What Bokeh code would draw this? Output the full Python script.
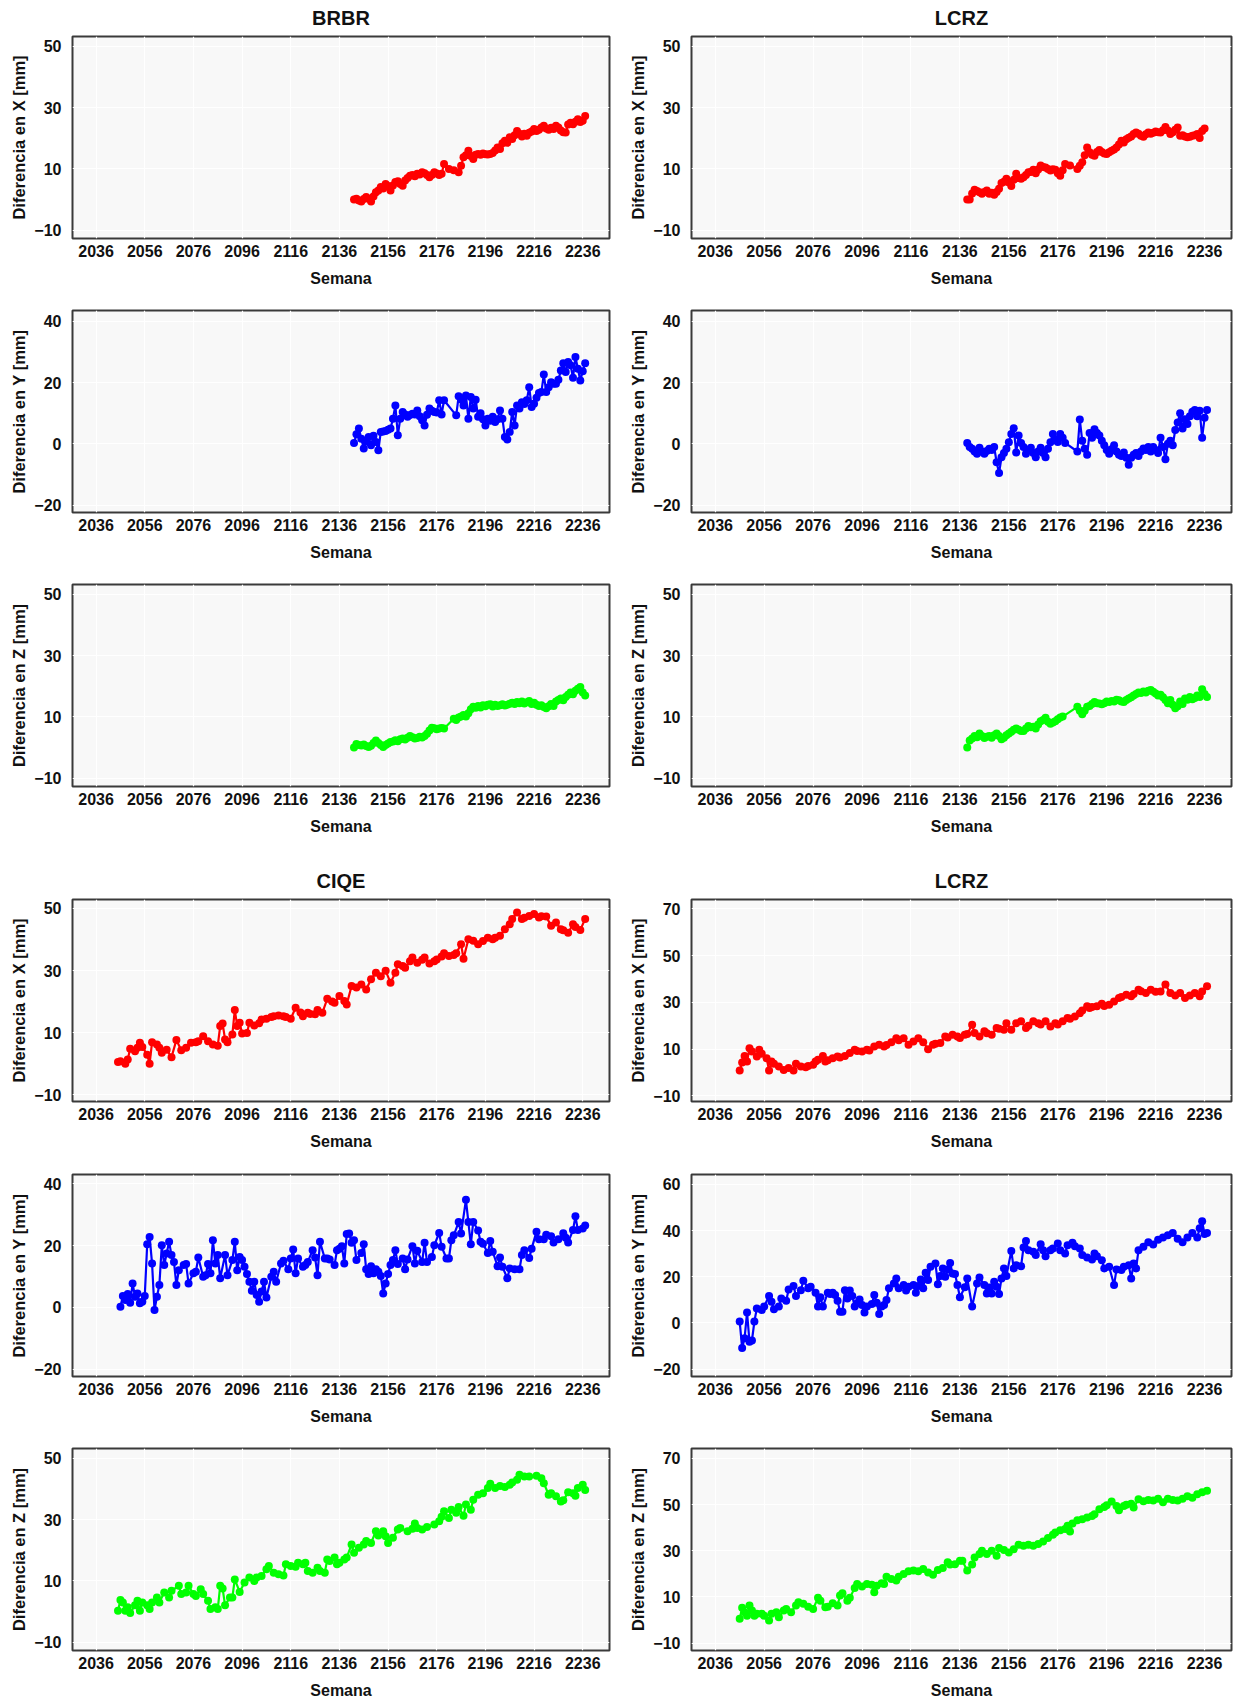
from bokeh.plotting import figure
from bokeh.layouts import column, row
from bokeh.models import FixedTicker, Range1d
from bokeh.embed import file_html
from bokeh.resources import INLINE

FONT = "Liberation Sans"

semana_ticks = [2036, 2056, 2076, 2096, 2116, 2136, 2156, 2176, 2196, 2216, 2236]
ticks_50 = [-10, 10, 30, 50]
ticks_40 = [-20, 0, 20, 40]
ticks_70 = [-10, 10, 30, 50, 70]
ticks_60 = [-20, 0, 20, 40, 60]

# ---------------- BRBR (top left) ----------------
brbr_x_semanas = list(range(2142, 2180)) + [2181, 2183] + list(range(2185, 2238))
brbr_x_mm = [0.0, 0.3, -0.3, -0.6, 0.2, 0.8, 0.3, -0.6, 1.0, 2.4, 3.0, 4.1, 3.6, 5.1, 4.4, 3.0, 4.6, 5.7, 6.0, 5.1,
             4.5, 6.2, 7.0, 7.8, 8.0, 7.6, 8.4, 8.2, 8.9, 8.6, 8.0, 7.3, 8.0, 8.9, 8.5, 8.0, 8.4, 11.6,
             10.0, 9.6,
             8.9, 11.0, 13.8, 14.5, 15.9, 14.2, 13.2, 14.6, 14.9, 14.6, 15.0, 14.8, 14.7, 14.9, 15.2, 16.0, 17.0,
             16.5, 18.4, 19.2, 18.5, 20.3, 19.8, 21.0, 22.4, 21.5, 20.6, 21.5, 20.8, 21.8, 22.2, 23.0, 22.4, 22.8,
             23.5, 24.1, 23.2, 22.8, 23.4, 23.0, 24.1, 23.5, 22.5, 22.0, 21.9, 24.5, 25.1, 24.6, 25.4, 26.2, 25.3,
             25.7, 27.3]

brbr_y_semanas = list(range(2142, 2180)) + list(range(2184, 2238))
brbr_y_mm = [0.3, 3.1, 5.0, 1.7, -1.5, 0.8, 2.2, -0.5, 2.6, 0.6, -2.1, 3.9, 4.0, 4.2, 4.6, 5.0, 8.2, 12.5, 2.8, 8.2,
             10.4, 9.6, 8.8, 9.4, 9.8, 9.6, 10.9, 9.0, 7.7, 6.0, 9.5, 11.5, 10.8, 10.4, 10.2, 14.2, 9.6, 14.2,
             9.3, 15.5, 14.5, 12.5, 15.8, 8.2, 15.3, 11.5, 14.4, 8.8, 10.0, 8.0, 6.0, 8.2, 7.5, 8.8, 7.1, 8.0,
             10.9, 8.2, 2.2, 1.4, 3.9, 10.4, 6.0, 12.5, 11.5, 13.6, 13.0, 14.2, 18.5, 12.0, 13.1, 15.0, 16.6, 16.9,
             22.6, 16.9, 18.5, 20.1, 19.6, 19.6, 20.9, 23.9, 26.3, 23.4, 26.7, 25.6, 21.6, 28.3, 24.5, 20.7, 23.7,
             26.3]

brbr_z_semanas = list(range(2142, 2180)) + list(range(2183, 2238))
brbr_z_mm = [0.0, 1.2, 0.8, 0.7, 1.0, 0.5, 0.2, 0.6, 1.5, 2.3, 1.5, 0.8, 0.2, 0.8, 1.3, 1.8, 2.0, 2.4, 2.1, 2.7,
             3.0, 2.6, 3.2, 3.8, 3.4, 3.0, 3.1, 3.5, 3.3, 3.8, 4.5, 5.6, 6.5, 6.3, 6.0, 6.2, 6.4, 6.2,
             9.4, 9.0, 9.8, 10.1, 10.6, 10.1, 11.2, 12.5, 13.3, 13.0, 13.6, 13.1, 13.8, 13.5, 14.0, 14.1, 13.4,
             14.0, 13.6, 13.8, 14.1, 13.7, 14.0, 14.3, 14.6, 14.2, 14.9, 14.5, 15.0, 14.4, 14.8, 15.2, 14.2, 14.6,
             14.0, 13.6, 13.8, 13.2, 12.8, 13.5, 14.2, 13.6, 15.0, 15.5, 16.0, 15.4, 16.5, 17.2, 18.0, 17.4, 18.5,
             19.2, 19.8, 18.0, 17.0]

# ---------------- LCRZ (top right) ----------------
lcrz1_x_semanas = list(range(2139, 2180)) + [2181] + list(range(2184, 2237))
lcrz1_x_mm = [0.0, 0.0, 2.0, 3.2, 2.8, 2.4, 1.9, 2.5, 3.0, 1.9, 2.2, 1.6, 2.5, 3.5, 5.4, 5.8, 6.8, 5.6, 4.4, 6.5,
              8.4, 7.0, 6.8, 7.3, 8.0, 8.9, 9.0, 9.7, 8.6, 9.8, 11.1, 10.6, 10.5, 10.0, 9.5, 9.9, 9.7, 8.6, 7.8,
              9.6, 11.6,
              11.1,
              10.0, 11.0, 12.2, 14.5, 17.0, 15.4, 14.6, 14.3, 15.5, 16.2, 15.5, 15.0, 14.9, 15.4, 15.9, 16.3, 17.0,
              18.0, 19.2, 18.6, 19.7, 20.2, 20.6, 21.4, 21.9, 21.5, 20.8, 20.5, 21.3, 21.9, 21.5, 21.8, 22.2, 22.0,
              21.9, 22.6, 23.7, 22.5, 21.4, 22.0, 22.8, 23.5, 20.8, 21.0, 20.6, 20.3, 20.5, 20.8, 21.0, 21.4, 20.1,
              22.4, 23.2]

lcrz1_y_semanas = list(range(2139, 2180)) + list(range(2184, 2238))
lcrz1_y_mm = [0.3, -1.0, -1.6, -2.5, -3.2, -1.3, -2.5, -3.2, -2.3, -1.6, -2.0, -1.0, -6.0, -9.5, -4.4, -3.0, -1.6,
              0.5, 3.2, 5.1, -2.8, 2.7, 0.3, -1.0, -3.2, -2.0, -1.3, -3.0, -4.4, -2.5, -1.3, -3.0, -4.4, -1.6, 0.5,
              3.2, 1.5, 0.6, 3.2, 2.0, 0.3,
              -2.5, 7.9, 1.0, -1.6, -3.6, 3.5, 2.0, 4.8, 3.5, 2.7, 1.0, -0.5, -2.0, -3.2, -1.8, -0.5, -2.5, -3.6,
              -4.0, -2.8, -4.5, -6.8, -4.5, -3.6, -3.0, -4.0, -2.5, -1.5, -2.0, -1.0, -2.5, -1.0, -2.0, -3.0, 2.0,
              -1.0, -5.0, 0.0, 1.0, -0.5, 4.5, 7.0, 10.0, 5.0, 8.0, 6.5, 9.0, 10.5, 11.0, 9.0, 10.8, 2.0, 8.5, 11.0]

lcrz1_z_semanas = list(range(2139, 2179)) + list(range(2184, 2238))
lcrz1_z_mm = [0.0, 2.3, 3.0, 3.8, 3.4, 4.6, 3.8, 3.1, 3.5, 3.8, 3.2, 4.0, 4.6, 3.8, 2.7, 3.2, 4.0, 4.6, 5.2, 5.8,
              6.2, 5.8, 5.4, 5.4, 6.2, 7.0, 6.6, 6.8, 6.2, 7.5, 8.6, 9.0, 9.7, 8.4, 7.8, 8.2, 8.6, 9.2, 9.8, 10.1,
              13.3, 12.0, 10.9, 12.0, 13.3, 13.6, 14.2, 14.9, 14.5, 14.4, 14.1, 14.5, 15.0, 14.9, 15.2, 15.0, 15.6,
              15.4, 15.0, 14.9, 15.5, 16.0, 16.4, 17.0, 17.5, 18.0, 17.8, 18.3, 18.0, 18.5, 18.8, 18.2, 17.6, 17.0,
              17.2, 16.4, 15.5, 14.5, 15.5, 14.0, 12.8, 13.5, 15.0, 14.2, 16.0, 15.6, 16.5, 15.8, 16.2, 17.0, 16.5,
              19.0, 17.5, 16.5]

# ---------------- CIQE (bottom left): (semana, mm) ----------------
ciqe_x = [(2045, 0.5), (2046, 0.8), (2048, 0.0), (2049, 1.3), (2050, 4.8), (2052, 4.0), (2053, 5.1), (2054, 6.7),
          (2055, 5.4), (2057, 2.9), (2058, 0.0), (2059, 6.9), (2061, 6.2), (2062, 5.1), (2063, 3.5), (2065, 4.5),
          (2067, 2.1), (2069, 7.6), (2071, 4.3), (2073, 5.1), (2075, 6.7), (2077, 6.9), (2078, 7.2), (2080, 8.8),
          (2082, 7.2), (2084, 6.2), (2086, 5.8), (2087, 12.1), (2088, 12.9), (2089, 7.8), (2090, 6.9), (2092, 9.4),
          (2093, 17.3), (2094, 12.1), (2095, 13.2), (2096, 9.7), (2098, 9.9), (2099, 13.2), (2101, 12.3),
          (2103, 13.0), (2104, 14.2), (2106, 14.5), (2108, 15.0), (2109, 15.3), (2111, 15.5), (2113, 15.3),
          (2114, 15.0), (2116, 14.5), (2118, 18.0), (2120, 16.5), (2121, 15.3), (2123, 16.4), (2124, 16.0),
          (2126, 15.9), (2127, 17.3), (2129, 16.4), (2131, 20.9), (2133, 20.0), (2134, 19.6), (2136, 21.8),
          (2138, 20.2), (2139, 19.1), (2141, 25.0), (2143, 24.5), (2145, 25.5), (2147, 23.9), (2149, 27.2),
          (2151, 29.3), (2153, 28.2), (2155, 29.9), (2157, 26.1), (2159, 29.3), (2160, 32.0), (2162, 31.5),
          (2163, 30.9), (2165, 33.0), (2166, 34.2), (2168, 32.5), (2170, 33.5), (2171, 34.2), (2173, 32.3),
          (2175, 33.0), (2176, 33.6), (2178, 34.5), (2179, 35.6), (2181, 34.7), (2183, 35.0), (2184, 35.6),
          (2186, 38.5), (2187, 33.8), (2189, 40.1), (2191, 39.6), (2193, 38.5), (2195, 39.5), (2197, 40.6),
          (2199, 40.1), (2200, 40.6), (2202, 41.2), (2204, 43.3), (2206, 44.9), (2207, 46.6), (2209, 48.7),
          (2211, 46.6), (2212, 47.0), (2214, 47.6), (2216, 48.2), (2218, 47.1), (2219, 47.5), (2221, 47.4),
          (2223, 44.4), (2225, 45.5), (2227, 43.3), (2228, 43.0), (2230, 42.2), (2232, 44.9), (2233, 44.0),
          (2235, 43.1), (2237, 46.6)]

ciqe_y = [(2046, 0.2), (2047, 3.7), (2048, 2.4), (2049, 4.3), (2050, 1.5), (2051, 7.7), (2052, 3.4), (2053, 4.5),
          (2054, 1.3), (2055, 1.8), (2056, 3.7), (2057, 20.4), (2058, 22.8), (2059, 14.2), (2060, -0.9),
          (2061, 3.4), (2062, 7.2), (2063, 20.1), (2064, 13.7), (2065, 17.4), (2066, 21.2), (2067, 16.9),
          (2068, 14.7), (2069, 7.2), (2070, 12.0), (2072, 13.7), (2073, 14.0), (2074, 7.7), (2076, 11.0),
          (2077, 11.5), (2078, 16.1), (2080, 9.9), (2081, 10.4), (2082, 14.0), (2083, 11.0), (2084, 21.7),
          (2085, 14.2), (2086, 16.9), (2087, 9.4), (2089, 16.9), (2090, 10.4), (2092, 15.3), (2093, 21.2),
          (2094, 12.0), (2095, 16.3), (2096, 15.3), (2097, 13.1), (2098, 10.8), (2099, 8.3), (2100, 5.4),
          (2101, 8.3), (2102, 4.0), (2103, 1.8), (2104, 5.1), (2105, 8.3), (2106, 3.2), (2108, 9.9), (2109, 11.5),
          (2110, 8.3), (2112, 14.2), (2113, 15.1), (2115, 12.3), (2116, 15.8), (2117, 18.7), (2118, 11.0),
          (2119, 15.8), (2121, 13.1), (2122, 13.7), (2123, 14.7), (2125, 18.5), (2126, 16.1), (2127, 10.4),
          (2128, 21.2), (2130, 15.8), (2131, 15.8), (2132, 15.5), (2134, 13.7), (2135, 18.5), (2136, 19.0),
          (2137, 19.8), (2138, 14.2), (2139, 23.7), (2140, 23.9), (2141, 20.9), (2142, 21.7), (2143, 15.3),
          (2145, 17.6), (2146, 20.4), (2147, 12.3), (2148, 10.8), (2149, 13.3), (2150, 11.0), (2151, 12.3),
          (2152, 11.5), (2153, 10.1), (2154, 4.5), (2155, 7.7), (2156, 10.8), (2157, 13.7), (2158, 15.3),
          (2159, 18.5), (2160, 14.0), (2162, 15.8), (2163, 12.3), (2164, 15.5), (2166, 19.8), (2167, 14.2),
          (2168, 18.3), (2170, 14.7), (2171, 20.9), (2172, 14.7), (2174, 16.3), (2175, 20.1), (2177, 24.1),
          (2178, 19.6), (2180, 15.8), (2181, 15.8), (2182, 21.7), (2183, 23.3), (2185, 27.6), (2186, 23.9),
          (2188, 34.8), (2189, 27.6), (2190, 20.4), (2191, 27.6), (2193, 24.9), (2194, 21.2), (2195, 20.6),
          (2197, 17.6), (2198, 21.5), (2199, 18.0), (2201, 13.3), (2202, 16.1), (2203, 13.1), (2205, 9.4),
          (2206, 12.6), (2208, 12.3), (2210, 12.3), (2211, 16.9), (2212, 18.5), (2214, 16.0), (2215, 19.0),
          (2217, 24.5), (2218, 22.0), (2220, 22.0), (2221, 23.5), (2223, 23.0), (2224, 21.0), (2226, 22.0),
          (2228, 24.0), (2229, 22.5), (2230, 21.0), (2232, 25.0), (2233, 29.5), (2234, 25.0), (2236, 25.5),
          (2237, 26.5)]

ciqe_z = [(2045, 0.3), (2046, 3.8), (2047, 3.0), (2048, 0.3), (2049, 1.4), (2050, -0.5), (2052, 2.1), (2053, 3.5),
          (2054, 0.3), (2055, 3.0), (2057, 2.1), (2058, 0.8), (2059, 3.0), (2061, 4.6), (2062, 3.0), (2064, 6.2),
          (2066, 4.6), (2067, 6.8), (2070, 8.4), (2071, 5.7), (2073, 6.2), (2074, 8.4), (2076, 5.7), (2077, 5.1),
          (2079, 7.3), (2080, 5.7), (2082, 3.5), (2083, 0.8), (2085, 1.4), (2086, 0.8), (2087, 8.4), (2088, 7.5),
          (2089, 2.1), (2091, 4.6), (2092, 4.6), (2093, 10.5), (2095, 6.4), (2097, 9.5), (2099, 11.1),
          (2101, 10.0), (2102, 11.1), (2104, 11.6), (2106, 13.8), (2107, 14.9), (2109, 12.7), (2111, 12.2),
          (2113, 11.8), (2114, 15.4), (2116, 14.9), (2118, 14.6), (2119, 15.9), (2121, 15.4), (2122, 15.9),
          (2123, 13.2), (2125, 12.7), (2127, 14.3), (2128, 13.2), (2130, 12.7), (2131, 17.0), (2132, 16.5),
          (2134, 17.6), (2135, 15.4), (2136, 15.9), (2138, 17.0), (2139, 17.6), (2141, 21.9), (2142, 19.2),
          (2144, 20.8), (2146, 21.9), (2147, 23.0), (2149, 22.4), (2151, 26.2), (2152, 24.8), (2154, 26.2),
          (2155, 24.6), (2156, 22.4), (2158, 24.1), (2160, 26.8), (2161, 27.3), (2164, 26.2), (2166, 27.0),
          (2167, 28.7), (2168, 27.3), (2170, 26.8), (2172, 27.6), (2175, 28.4), (2177, 29.5), (2178, 30.9),
          (2179, 32.7), (2181, 30.5), (2182, 33.2), (2184, 32.2), (2185, 34.1), (2187, 31.3), (2188, 34.9),
          (2190, 33.2), (2191, 36.5), (2193, 38.1), (2195, 38.6), (2197, 40.3), (2198, 41.7), (2200, 40.3),
          (2202, 41.0), (2204, 40.6), (2206, 41.4), (2207, 42.1), (2209, 43.0), (2210, 44.6), (2212, 44.1),
          (2214, 44.1), (2217, 44.3), (2219, 43.5), (2220, 41.9), (2222, 38.1), (2223, 38.6), (2225, 37.6),
          (2227, 35.9), (2228, 36.3), (2230, 38.9), (2232, 38.6), (2233, 37.8), (2234, 40.3), (2236, 41.4),
          (2237, 39.7)]

# ---------------- LCRZ (bottom right): (semana, mm) ----------------
lcrz2_x = [(2046, 0.9), (2047, 4.3), (2048, 7.1), (2049, 4.7), (2050, 10.4), (2051, 9.0), (2053, 6.9), (2054, 9.7),
           (2055, 8.0), (2057, 6.1), (2058, 0.9), (2059, 4.7), (2060, 3.7), (2062, 2.6), (2064, 1.1), (2066, 1.9),
           (2068, 0.9), (2069, 3.7), (2071, 2.6), (2073, 2.3), (2074, 2.8), (2076, 3.3), (2077, 4.7), (2078, 5.5),
           (2080, 7.1), (2081, 4.7), (2082, 5.2), (2084, 6.1), (2086, 6.9), (2087, 6.4), (2089, 7.1), (2091, 8.3),
           (2093, 9.7), (2094, 9.2), (2096, 9.0), (2098, 9.7), (2099, 9.4), (2101, 11.1), (2103, 11.9),
           (2105, 11.1), (2106, 11.8), (2108, 12.9), (2110, 14.7), (2111, 13.8), (2113, 14.7), (2115, 11.9),
           (2117, 13.3), (2119, 14.7), (2121, 12.9), (2123, 10.0), (2125, 11.9), (2126, 12.3), (2128, 12.6),
           (2130, 15.4), (2131, 15.0), (2133, 16.1), (2135, 15.4), (2136, 14.8), (2138, 16.1), (2139, 16.5),
           (2141, 20.4), (2142, 16.9), (2144, 15.4), (2146, 17.6), (2147, 16.8), (2149, 16.1), (2151, 19.0),
           (2152, 18.7), (2154, 18.3), (2155, 21.1), (2157, 18.3), (2159, 21.1), (2161, 21.9), (2163, 19.0),
           (2164, 20.0), (2166, 21.9), (2168, 21.1), (2169, 20.5), (2171, 21.9), (2173, 19.7), (2175, 21.1),
           (2176, 20.5), (2178, 21.9), (2180, 23.3), (2181, 23.0), (2183, 24.0), (2185, 25.4), (2186, 26.5),
           (2188, 28.3), (2189, 27.6), (2190, 28.0), (2192, 28.3), (2194, 29.4), (2195, 28.5), (2197, 29.0),
           (2199, 30.4), (2201, 31.9), (2202, 32.3), (2204, 33.3), (2206, 32.6), (2207, 33.6), (2209, 35.4),
           (2210, 34.8), (2212, 34.0), (2214, 35.4), (2216, 34.5), (2218, 34.7), (2220, 37.6), (2222, 34.0),
           (2224, 32.9), (2226, 34.0), (2228, 31.9), (2230, 32.9), (2232, 34.0), (2234, 32.6), (2235, 34.7),
           (2237, 36.9)]

lcrz2_y = [(2046, 0.6), (2047, -10.9), (2048, -6.6), (2049, 4.5), (2050, -8.1), (2051, -7.6), (2052, 0.6),
           (2053, 6.3), (2055, 5.6), (2056, 7.1), (2058, 11.7), (2059, 9.2), (2060, 5.9), (2062, 7.1), (2063, 10.6),
           (2065, 9.6), (2066, 14.5), (2068, 16.0), (2069, 11.7), (2071, 14.2), (2072, 18.3), (2074, 15.0),
           (2075, 15.7), (2077, 13.1), (2078, 7.1), (2079, 11.1), (2080, 7.1), (2082, 13.1), (2083, 12.5),
           (2084, 13.1), (2085, 12.1), (2086, 9.6), (2087, 4.9), (2088, 4.9), (2089, 14.2), (2090, 10.6),
           (2091, 14.0), (2092, 11.7), (2093, 7.1), (2094, 8.5), (2095, 10.2), (2096, 7.8), (2097, 4.5),
           (2098, 7.1), (2100, 8.2), (2101, 12.1), (2102, 8.8), (2103, 3.9), (2104, 7.1), (2105, 7.8), (2106, 9.9),
           (2107, 15.0), (2109, 17.1), (2110, 19.3), (2111, 15.0), (2113, 16.4), (2114, 14.0), (2115, 15.7),
           (2117, 16.4), (2118, 13.1), (2119, 16.0), (2120, 18.8), (2121, 15.0), (2122, 21.7), (2123, 18.6),
           (2124, 24.3), (2126, 25.8), (2127, 16.8), (2128, 20.3), (2129, 23.6), (2130, 20.0), (2131, 23.2),
           (2132, 26.0), (2133, 21.4), (2134, 21.2), (2135, 16.4), (2136, 11.1), (2138, 15.5), (2139, 19.3),
           (2141, 7.1), (2143, 17.1), (2144, 19.7), (2146, 16.4), (2147, 12.8), (2148, 15.4), (2149, 12.8),
           (2150, 17.8), (2151, 15.7), (2152, 12.5), (2153, 19.3), (2154, 23.6), (2155, 20.3), (2157, 31.2),
           (2158, 23.6), (2159, 25.0), (2161, 24.6), (2162, 32.7), (2163, 35.5), (2164, 31.5), (2166, 30.8),
           (2167, 29.4), (2169, 34.1), (2170, 31.5), (2171, 28.9), (2173, 31.5), (2174, 32.2), (2176, 34.4),
           (2177, 31.5), (2179, 30.1), (2180, 33.7), (2182, 34.7), (2183, 33.2), (2185, 32.2), (2186, 29.4),
           (2188, 28.3), (2190, 27.5), (2191, 30.1), (2192, 28.9), (2194, 27.2), (2195, 23.6), (2197, 24.3),
           (2199, 16.4), (2200, 23.2), (2202, 22.9), (2203, 24.3), (2205, 25.0), (2206, 19.3), (2207, 25.8),
           (2208, 23.6), (2209, 31.5), (2211, 33.0), (2213, 35.0), (2215, 34.0), (2217, 36.0), (2219, 37.0),
           (2221, 38.0), (2223, 39.0), (2225, 36.5), (2227, 35.0), (2229, 37.0), (2231, 39.0), (2233, 37.0),
           (2234, 41.0), (2235, 44.0), (2236, 38.5), (2237, 39.0)]

lcrz2_z = [(2046, 0.5), (2047, 5.3), (2048, 3.4), (2049, 1.9), (2050, 6.3), (2051, 4.1), (2052, 1.9), (2053, 2.7),
           (2055, 2.7), (2056, 1.9), (2058, -0.2), (2059, 2.7), (2061, 3.4), (2062, 1.2), (2064, 4.1), (2065, 4.8),
           (2067, 3.4), (2069, 6.3), (2070, 7.7), (2072, 7.0), (2074, 5.8), (2076, 4.8), (2078, 9.6), (2079, 8.4),
           (2081, 5.5), (2082, 5.8), (2084, 7.3), (2086, 6.3), (2087, 10.6), (2088, 11.6), (2090, 8.4), (2091, 9.6),
           (2093, 13.9), (2094, 15.6), (2096, 14.5), (2098, 15.6), (2100, 15.3), (2101, 12.0), (2102, 14.9),
           (2104, 15.9), (2105, 15.6), (2106, 18.8), (2108, 17.8), (2110, 17.1), (2111, 18.8), (2113, 19.9),
           (2115, 21.1), (2117, 21.4), (2119, 21.1), (2121, 22.1), (2123, 20.6), (2125, 19.6), (2127, 21.7),
           (2129, 22.5), (2131, 25.0), (2132, 24.0), (2134, 24.2), (2136, 25.7), (2137, 25.7), (2139, 21.4),
           (2141, 24.0), (2142, 27.1), (2144, 28.6), (2145, 30.0), (2147, 28.6), (2149, 30.0), (2151, 27.8),
           (2152, 31.2), (2154, 30.3), (2156, 29.3), (2158, 30.7), (2160, 32.6), (2162, 32.2), (2164, 32.6),
           (2166, 32.2), (2168, 32.9), (2170, 34.0), (2172, 35.5), (2174, 36.9), (2175, 37.9), (2177, 38.9),
           (2179, 39.4), (2180, 40.8), (2181, 38.3), (2182, 41.8), (2184, 43.2), (2186, 43.7), (2188, 44.4),
           (2190, 45.1), (2191, 45.8), (2193, 48.0), (2195, 49.0), (2196, 49.7), (2198, 51.3), (2200, 49.4),
           (2201, 47.6), (2203, 49.4), (2204, 49.9), (2206, 50.4), (2207, 48.7), (2209, 52.3), (2211, 51.5),
           (2213, 52.0), (2215, 51.8), (2217, 52.5), (2219, 51.0), (2221, 52.5), (2223, 52.0), (2225, 51.8),
           (2227, 52.5), (2229, 53.6), (2231, 53.0), (2233, 54.5), (2235, 55.4), (2237, 56.0)]

ROJO, AZUL, VERDE = "#ff0000", "#0000ff", "#00ff00"
TOPS = [36, 20, 20, 61, 21, 20]
BOTTOMS = [52, 52, 52, 52, 52, 51]
FRAME_W = [537, 540]
LEFT_B = [72, 70]
RIGHT_B = [12, 3]


def panel(titulo, eje, semanas, valores, color, yrange, yticks, col, fila):
    n = min(len(semanas), len(valores))
    xs, ys = list(semanas[:n]), list(valores[:n])
    kw = {}
    if titulo:
        kw["title"] = titulo
    p = figure(frame_width=FRAME_W[col], frame_height=202, output_backend="svg", toolbar_location=None,
               x_range=Range1d(2026.3, 2247.0), y_range=Range1d(*yrange),
               min_border_left=LEFT_B[col], min_border_right=RIGHT_B[col],
               min_border_top=TOPS[fila], min_border_bottom=BOTTOMS[fila], **kw)
    p.background_fill_color = "#f8f8f8"
    p.border_fill_color = "white"
    p.outline_line_color = "#3a3a3a"
    p.outline_line_width = 2
    if titulo:
        p.title.text_font = FONT
        p.title.text_font_size = "20px"
        p.title.text_font_style = "bold"
        p.title.text_color = "#111111"
        p.title.align = "center"
        p.title.vertical_align = "top"
        p.title.standoff = 12
    p.xaxis.ticker = FixedTicker(ticks=semana_ticks)
    p.yaxis.ticker = FixedTicker(ticks=yticks)
    p.xaxis.axis_label = "Semana"
    p.yaxis.axis_label = "Diferencia en %s [mm]" % eje
    for ax in (p.xaxis[0], p.yaxis[0]):
        ax.axis_line_color = None
        ax.major_tick_line_color = None
        ax.minor_tick_line_color = None
        ax.major_tick_out = 0
        ax.major_tick_in = 0
        ax.minor_tick_out = 0
        ax.major_label_text_font = FONT
        ax.major_label_text_font_size = "16px"
        ax.major_label_text_font_style = "bold"
        ax.major_label_text_color = "#111111"
        ax.axis_label_text_font = FONT
        ax.axis_label_text_font_style = "bold"
        ax.axis_label_text_color = "#111111"
    p.xaxis.major_label_standoff = 6
    p.xaxis.axis_label_standoff = 10
    p.xaxis.axis_label_text_font_size = "16px"
    p.yaxis.major_label_standoff = 11
    p.yaxis.axis_label_standoff = 3
    p.yaxis.axis_label_text_font_size = "16.5px"
    p.xgrid.grid_line_color = "white"
    p.ygrid.grid_line_color = "white"
    p.xgrid.grid_line_width = 1.2
    p.ygrid.grid_line_width = 1.2
    p.line(xs, ys, line_color=color, line_width=2.2)
    p.scatter(xs, ys, size=8, fill_color=color, line_color=color, line_width=0)
    return p


def split(pares):
    return [a for a, b in pares], [b for a, b in pares]


cx_s, cx_v = split(ciqe_x)
cy_s, cy_v = split(ciqe_y)
cz_s, cz_v = split(ciqe_z)
lx_s, lx_v = split(lcrz2_x)
ly_s, ly_v = split(lcrz2_y)
lz_s, lz_v = split(lcrz2_z)

filas = [
    row(panel("BRBR", "X", brbr_x_semanas, brbr_x_mm, ROJO, (-12.7, 53.2), ticks_50, 0, 0),
        panel("LCRZ", "X", lcrz1_x_semanas, lcrz1_x_mm, ROJO, (-12.7, 53.2), ticks_50, 1, 0)),
    row(panel(None, "Y", brbr_y_semanas, brbr_y_mm, AZUL, (-22.4, 43.5), ticks_40, 0, 1),
        panel(None, "Y", lcrz1_y_semanas, lcrz1_y_mm, AZUL, (-22.4, 43.5), ticks_40, 1, 1)),
    row(panel(None, "Z", brbr_z_semanas, brbr_z_mm, VERDE, (-12.7, 53.2), ticks_50, 0, 2),
        panel(None, "Z", lcrz1_z_semanas, lcrz1_z_mm, VERDE, (-12.7, 53.2), ticks_50, 1, 2)),
    row(panel("CIQE", "X", cx_s, cx_v, ROJO, (-12.2, 52.9), ticks_50, 0, 3),
        panel("LCRZ", "X", lx_s, lx_v, ROJO, (-12.4, 74.0), ticks_70, 1, 3)),
    row(panel(None, "Y", cy_s, cy_v, AZUL, (-22.4, 43.0), ticks_40, 0, 4),
        panel(None, "Y", ly_s, ly_v, AZUL, (-23.2, 64.3), ticks_60, 1, 4)),
    row(panel(None, "Z", cz_s, cz_v, VERDE, (-12.7, 53.2), ticks_50, 0, 5),
        panel(None, "Z", lz_s, lz_v, VERDE, (-13.2, 74.3), ticks_70, 1, 5)),
]

layout = column(*filas)
open("out.html", "w").write(file_html(layout, INLINE))
